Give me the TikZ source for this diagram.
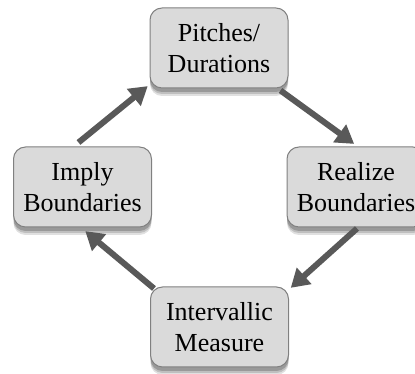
\documentclass[tikz,border=0pt]{standalone}
\usepackage{fontspec}
\setmainfont{Liberation Serif}
\usetikzlibrary{arrows.meta,shadows}
\definecolor{boxfill}{HTML}{DADADA}
\definecolor{boxline}{HTML}{808080}
\definecolor{arrowgray}{HTML}{595959}
\begin{document}
\begin{tikzpicture}[x=1pt,y=1pt,
	stage/.style={rectangle,rounded corners=12pt,draw=boxline,line width=1pt,fill=boxfill,
		minimum width=138pt,minimum height=80pt,inner sep=0pt,align=center,
		font=\fontsize{26}{31}\selectfont,
		drop shadow={shadow xshift=0pt,shadow yshift=-8pt,opacity=0.12,fill=black},
		drop shadow={shadow xshift=0pt,shadow yshift=-6pt,opacity=0.15,fill=black},
		drop shadow={shadow xshift=0pt,shadow yshift=-4pt,opacity=0.2,fill=black}},
	flow/.style={draw=arrowgray,line width=6pt,-{Triangle[length=18pt,width=21pt]},shorten >=1pt}]
			\useasboundingbox (0,0) rectangle (415,374);
			%nodes
			\node [stage] (pitches) at (219,326) {Pitches/\\Durations};
			\node [stage] (imply) at (82.5,187) {Imply\\Boundaries};
			\node [stage] (realize) at (356,187) {Realize\\Boundaries};
			\node [stage] (interval) at (219.5,47) {Intervallic\\Measure};

			%edges
			\draw[flow] ([xshift=-4pt,yshift=4pt]imply.north) -- ([xshift=-1pt,yshift=3pt]pitches.south west);
			\draw[flow] ([xshift=-8pt,yshift=-2pt]pitches.south east) -- ([xshift=-1pt,yshift=2pt]realize.north);
			\draw[flow] ([xshift=1pt,yshift=-1pt]realize.south) -- ([xshift=1pt,yshift=-2pt]interval.north east);
			\draw[flow] ([xshift=4pt,yshift=-2pt]interval.north west) -- ([xshift=2pt,yshift=-3pt]imply.south);
		\end{tikzpicture}
\end{document}
